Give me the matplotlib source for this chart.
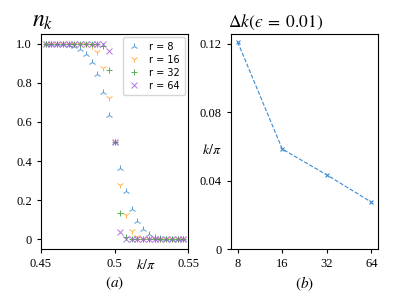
import numpy as np
import matplotlib
matplotlib.use("Agg")
import matplotlib.pyplot as plt

plt.rcParams["font.family"] = ["Liberation Serif", "DejaVu Serif"]
plt.rcParams["mathtext.fontset"] = "stix"

# ── data ──────────────────────────────────────────────────────────────────
# momentum grid k/pi = 0.5 + n/256, n = -12..12
n_idx = np.arange(-12, 13)
k_over_pi = 0.5 + n_idx / 256

# occupation above the Fermi point (n = 1..12); below is 1 - mirror
tail_r8  = [0.362, 0.245, 0.153, 0.093, 0.052, 0.027, 0.013, 0.006, 0.003, 0.001, 0.0, 0.0]
tail_r16 = [0.278, 0.122, 0.044, 0.012, 0.003, 0.001, 0.0, 0.0, 0.0, 0.0, 0.0, 0.0]
tail_r32 = [0.136, 0.012, 0.001, 0.0, 0.0, 0.0, 0.0, 0.0, 0.0, 0.0, 0.0, 0.0]
tail_r64 = [0.036, 0.001, 0.0, 0.0, 0.0, 0.0, 0.0, 0.0, 0.0, 0.0, 0.0, 0.0]

r_values = [8, 16, 32, 64]
dk_values = [0.1209, 0.0584, 0.0433, 0.0274]

series = {8: tail_r8, 16: tail_r16, 32: tail_r32, 64: tail_r64}
markers = {8: "2", 16: "1", 32: "+", 64: "x"}
colors = {8: "#3b8bd0", 16: "#ffa531", 32: "#3aa13a", 64: "#a660d6"}


def full_nk(tail):
    tail = np.array(tail)
    return np.concatenate([1 - tail[::-1], [0.5], tail])


fig = plt.figure(figsize=(4.15, 2.94), dpi=100)
ax1 = fig.add_axes([41 / 415, 45 / 294, 147 / 415, 215 / 294])
ax2 = fig.add_axes([231 / 415, 45 / 294, 147 / 415, 215 / 294])

# ── (a) occupation ────────────────────────────────────────────────────────
for r in r_values:
    ax1.plot(k_over_pi, full_nk(series[r]), linestyle="none",
             marker=markers[r], color=colors[r], markersize=4.8,
             markeredgewidth=0.7, alpha=0.85, label=f"r = {r}")
ax1.set_xlim(0.45, 0.55)
ax1.set_xticks([0.45, 0.5, 0.55])
ax1.set_xticklabels(["0.45", "0.5", "0.55"])
ax1.set_yticks([0, 0.2, 0.4, 0.6, 0.8, 1.0])
ax1.set_yticklabels(["0", "0.2", "0.4", "0.6", "0.8", "1.0"])
ax1.text(0.5215, -0.13, r"$k/\pi$", ha="center", va="center", fontsize=10)
ax1.set_xlabel(r"$(a)$", fontsize=11, labelpad=3)
ax1.text(0.01, 1.06, r"$n_k$", transform=ax1.transAxes, fontsize=17,
         ha="center", va="center")
leg = ax1.legend(loc="upper right", prop={"family": "DejaVu Sans", "size": 7},
                 handlelength=1.2, handletextpad=1.0, borderpad=0.5,
                 labelspacing=0.3, borderaxespad=0.3)

# ── (b) width ─────────────────────────────────────────────────────────────
ax2.plot(r_values, dk_values, linestyle="--", marker="x", color="#3b8bd0",
         linewidth=0.8, markersize=3.5, markeredgewidth=0.8)
ax2.set_xscale("log", base=2)
ax2.set_xticks(r_values)
ax2.set_xticklabels([str(r) for r in r_values])
ax2.minorticks_off()
ax2.set_ylim(bottom=0)
ax2.set_yticks([0, 0.04, 0.08, 0.12])
ax2.set_yticklabels(["0", "0.04", "0.08", "0.12"])
ax2.set_ylabel(r"$k/\pi$", rotation=0, fontsize=10, va="center", ha="center")
ax2.yaxis.set_label_coords(-0.13, 0.46)
ax2.set_xlabel(r"$(b)$", fontsize=11, labelpad=3)
ax2.set_title("$\\Delta k(\u03f5\\;=\\;0.01)$", fontsize=12.5, pad=5,
              loc="left", x=-0.02)

for ax in (ax1, ax2):
    ax.tick_params(labelsize=9, length=3, width=0.8)
    for sp in ax.spines.values():
        sp.set_linewidth(0.8)

fig.savefig("out.png", dpi=100)
